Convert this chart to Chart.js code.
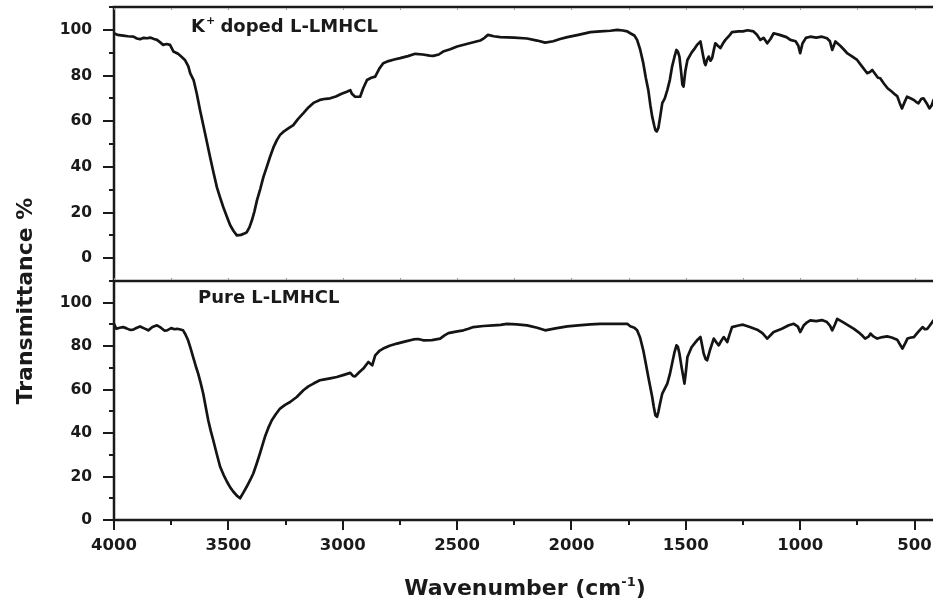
<!DOCTYPE html>
<html>
<head>
<meta charset="utf-8">
<script src="https://cdn.jsdelivr.net/npm/chart.js@4/dist/chart.umd.min.js"></script>
<style>
  html, body { margin: 0; padding: 0; background: #ffffff; overflow: hidden; }
  #wrap { position: relative; width: 942px; height: 604px; }
</style>
</head>
<body>
<div id="wrap"><canvas id="ftir" width="942" height="604"></canvas></div>
<script>
// FTIR spectrum of K+ doped L-LMHCL (upper panel)
const dopedWavenumber = [
  4000, 3985, 3960, 3940, 3915, 3900, 3886, 3870, 3855, 3842, 3825, 3812, 3798, 3785, 3770, 3755,
  3740, 3720, 3705, 3690, 3675, 3667, 3652, 3638, 3624, 3602, 3580, 3565, 3550, 3536, 3522, 3506,
  3492, 3478, 3463, 3445, 3430, 3420, 3408, 3397, 3386, 3375, 3360, 3347, 3332, 3318, 3303, 3288,
  3274, 3260, 3238, 3216, 3195, 3172, 3150, 3128, 3100, 3075, 3055, 3030, 3005, 2982, 2967, 2960,
  2946, 2924, 2910, 2894, 2875, 2858, 2840, 2823, 2800, 2775, 2749, 2715, 2683, 2650, 2620, 2604,
  2580, 2561, 2530, 2500, 2450, 2399, 2380, 2365, 2340, 2311, 2250, 2194, 2150, 2115, 2080, 2050,
  2018, 1970, 1917, 1874, 1830, 1800, 1775, 1756, 1743, 1725, 1713, 1700, 1686, 1675, 1664, 1655,
  1647, 1638, 1633, 1627, 1620, 1612, 1603, 1592, 1581, 1570, 1560, 1550, 1541, 1535, 1528, 1520,
  1515, 1510, 1502, 1493, 1475, 1460, 1451, 1436, 1425, 1418, 1414, 1407, 1400, 1392, 1385, 1378,
  1371, 1360, 1349, 1338, 1327, 1310, 1298, 1270, 1250, 1230, 1204, 1190, 1174, 1160, 1144, 1130,
  1116, 1090, 1060, 1043, 1020, 1008, 1000, 990, 975, 956, 930, 905, 883, 870, 860, 846,
  825, 810, 795, 775, 751, 730, 707, 695, 685, 660, 650, 635, 618, 600, 583, 576,
  565, 555, 545, 533, 518, 503, 490, 483, 470, 461, 448, 435, 425, 417
];
const dopedTransmittance = [
  98.5, 97.8, 97.5, 97.2, 97.0, 96.2, 95.9, 96.5, 96.3, 96.6, 96.0, 95.6, 94.5, 93.4, 93.8, 93.4,
  90.5, 89.5, 88.2, 86.8, 84.0, 81.0, 78.0, 72.0, 64.9, 54.7, 44.3, 37.5, 31.0, 26.5, 22.3, 18.0,
  14.4, 12.0, 10.0, 10.2, 10.8, 11.3, 13.5, 16.6, 20.5, 25.3, 30.5, 35.5, 40.0, 44.3, 48.5, 51.7,
  54.0, 55.3, 56.8, 58.3, 61.0, 63.5, 66.0, 68.0, 69.3, 69.8, 70.0, 70.8, 72.0, 72.9, 73.6, 72.0,
  70.7, 70.7, 74.5, 78.0, 79.0, 79.5, 83.0, 85.4, 86.3, 87.0, 87.6, 88.5, 89.5, 89.2, 88.7, 88.6,
  89.2, 90.5, 91.5, 92.7, 94.0, 95.3, 96.5, 97.8, 97.2, 96.8, 96.6, 96.2, 95.3, 94.4, 95.0, 96.0,
  96.8, 97.8, 99.0, 99.3, 99.6, 100.0, 99.7, 99.3, 98.5, 97.5, 95.6, 91.5, 85.4, 79.0, 73.6, 67.0,
  62.0, 58.0, 56.1, 55.5, 57.0, 62.0, 67.9, 70.0, 73.6, 78.0, 83.9, 88.0, 91.2, 90.5, 88.3, 81.0,
  76.0, 75.1, 82.0, 86.8, 90.0, 92.0, 93.4, 94.9, 89.0, 85.5, 84.6, 87.0, 88.3, 86.5, 87.6, 91.0,
  94.1, 93.0, 92.0, 94.0, 95.6, 97.5, 99.0, 99.3, 99.3, 99.8, 99.3, 98.0, 95.6, 96.5, 94.1, 96.0,
  98.5, 97.8, 96.8, 95.6, 95.0, 93.0, 89.8, 94.0, 96.5, 97.0, 96.6, 97.0, 96.3, 95.0, 91.2, 94.9,
  93.0, 91.5, 89.8, 88.5, 86.8, 84.0, 81.0, 81.5, 82.4, 79.0, 78.8, 76.6, 74.4, 73.0, 71.5, 71.0,
  68.0, 65.6, 68.0, 70.7, 70.0, 69.3, 68.2, 67.8, 69.8, 70.0, 68.0, 65.6, 67.0, 69.3
];

// FTIR spectrum of pure L-LMHCL (lower panel)
const pureWavenumber = [
  4000, 3990, 3975, 3960, 3945, 3930, 3916, 3900, 3886, 3868, 3850, 3832, 3812, 3795, 3780, 3768,
  3750, 3735, 3724, 3710, 3698, 3688, 3676, 3665, 3654, 3643, 3632, 3621, 3610, 3599, 3588, 3577,
  3566, 3551, 3536, 3521, 3506, 3492, 3478, 3463, 3449, 3435, 3420, 3405, 3391, 3376, 3362, 3351,
  3340, 3325, 3310, 3292, 3274, 3252, 3230, 3201, 3172, 3150, 3128, 3100, 3085, 3055, 3026, 2995,
  2967, 2955, 2946, 2928, 2910, 2888, 2871, 2858, 2840, 2823, 2795, 2763, 2725, 2691, 2670, 2648,
  2610, 2574, 2555, 2538, 2505, 2472, 2450, 2429, 2385, 2341, 2310, 2282, 2240, 2194, 2150, 2115,
  2070, 2018, 1970, 1917, 1874, 1800, 1756, 1743, 1725, 1713, 1700, 1686, 1675, 1664, 1655, 1647,
  1640, 1633, 1626, 1620, 1612, 1603, 1592, 1581, 1570, 1560, 1550, 1541, 1535, 1528, 1518, 1506,
  1500, 1493, 1475, 1460, 1451, 1436, 1428, 1422, 1413, 1407, 1395, 1378, 1368, 1356, 1345, 1334,
  1319, 1310, 1298, 1270, 1250, 1220, 1188, 1165, 1144, 1130, 1116, 1080, 1050, 1028, 1010, 1000,
  985, 970, 956, 930, 905, 883, 870, 860, 848, 838, 815, 790, 765, 746, 730, 716,
  700, 693, 680, 663, 640, 620, 600, 576, 565, 553, 540, 531, 515, 503, 485, 465,
  455, 444, 430, 417
];
const pureTransmittance = [
  90.3, 88.0, 88.5, 88.8, 88.2, 87.5, 87.6, 88.5, 89.1, 88.2, 87.3, 88.8, 89.6, 88.5, 87.2, 87.3,
  88.3, 87.8, 88.0, 87.7, 87.3, 85.5, 82.7, 79.0, 75.0, 71.0, 67.4, 63.0, 58.2, 52.0, 45.9, 41.0,
  36.7, 30.5, 24.5, 20.8, 17.6, 15.0, 13.0, 11.2, 10.0, 12.5, 15.3, 18.3, 21.4, 26.0, 30.6, 34.5,
  38.3, 42.5, 45.9, 48.8, 51.3, 53.0, 54.3, 56.6, 59.7, 61.5, 62.8, 64.3, 64.6, 65.2, 65.8, 66.8,
  67.7, 66.3, 66.1, 68.0, 69.7, 72.7, 71.2, 75.8, 77.8, 78.9, 80.2, 81.2, 82.2, 83.1, 83.3, 82.7,
  82.8, 83.5, 85.0, 86.0, 86.7, 87.3, 88.0, 88.8, 89.3, 89.6, 89.8, 90.3, 90.0, 89.6, 88.5, 87.3,
  88.2, 89.1, 89.6, 90.0, 90.3, 90.3, 90.3, 89.2, 88.5, 87.3, 84.0, 78.1, 72.0, 65.8, 61.0, 56.6,
  52.0, 48.2, 47.5, 49.8, 54.0, 58.2, 60.5, 62.8, 67.0, 72.0, 77.0, 80.4, 79.8, 76.6, 70.0, 62.8,
  68.0, 75.0, 79.5, 81.5, 82.7, 84.2, 80.0, 76.6, 74.0, 73.5, 78.0, 83.5, 82.0, 80.4, 82.5, 84.2,
  81.9, 85.0, 88.8, 89.5, 89.9, 88.8, 87.6, 86.0, 83.5, 85.0, 86.5, 88.0, 89.6, 90.3, 89.0, 86.5,
  89.5, 91.0, 91.9, 91.5, 92.0, 91.1, 89.5, 87.3, 90.0, 92.6, 91.2, 89.6, 88.0, 86.5, 85.0, 83.5,
  84.5, 85.8, 84.5, 83.5, 84.2, 84.5, 84.0, 83.0, 81.0, 78.9, 81.5, 83.5, 84.0, 84.2, 86.5, 88.8,
  87.8, 88.0, 90.0, 91.9
];

// Axis ticks
const xMajorTicks = [4000, 3500, 3000, 2500, 2000, 1500, 1000, 500];
const xMinorTicks = [3750, 3250, 2750, 2250, 1750, 1250, 750];
const yMajorTicks = [0, 20, 40, 60, 80, 100];
const yDopedMinorTicks = [-10, 10, 30, 50, 70, 90, 110];
const yPureMinorTicks = [10, 30, 50, 70, 90, 110];

// Text
const dopedLabel = ['K', '+', ' doped L-LMHCL'];
const pureLabel = 'Pure L-LMHCL';
const yTitle = 'Transmittance %';
const xTitle = ['Wavenumber (cm', '-1', ')'];

const INK = '#1a1a1a';
const FONT = '"DejaVu Sans", "Liberation Sans", Arial, sans-serif';

const toPoints = (xs, ys) => xs.map((x, i) => ({ x: x, y: ys[i] }));

const yAxisBase = (min, max, weight) => ({
  type: 'linear',
  position: 'left',
  stack: 'panels',
  stackWeight: weight,
  min: min,
  max: max,
  grid: { display: false, drawTicks: false },
  border: { display: false },
  afterBuildTicks: (s) => { s.ticks = yMajorTicks.map(v => ({ value: v })); },
  ticks: {
    padding: 22,
    color: INK,
    font: { family: FONT, weight: 'bold', size: 15.5 },
    callback: (v) => String(v)
  },
  afterFit: (s) => {
    s.width = 114;
    s.paddingTop = 0; s.paddingBottom = 0; s.paddingLeft = 0; s.paddingRight = 0;
  }
});

// Frame, tick marks, titles and panel captions
const framePlugin = {
  id: 'frame',
  afterDraw(chart) {
    const { ctx, chartArea } = chart;
    const xs = chart.scales.x;
    const yTop = chart.scales.yDoped;
    const yBot = chart.scales.yPure;
    const L = chartArea.left, R = chartArea.right;
    const sep = yTop.bottom;

    ctx.save();
    ctx.strokeStyle = INK;
    ctx.lineWidth = 2.5;
    ctx.lineCap = 'butt';

    // panel borders
    ctx.beginPath();
    ctx.moveTo(L, chartArea.top); ctx.lineTo(R, chartArea.top);
    ctx.moveTo(L, sep); ctx.lineTo(R, sep);
    ctx.moveTo(L, chartArea.bottom); ctx.lineTo(R, chartArea.bottom);
    ctx.moveTo(L, chartArea.top - 1.2); ctx.lineTo(L, chartArea.bottom + 1.2);
    ctx.stroke();

    // y tick marks (outward)
    ctx.lineWidth = 2;
    ctx.beginPath();
    const yTick = (scale, v, len) => {
      const p = Math.round(scale.getPixelForValue(v));
      ctx.moveTo(L - len, p); ctx.lineTo(L, p);
    };
    yMajorTicks.forEach(v => { yTick(yTop, v, 11); yTick(yBot, v, 11); });
    yDopedMinorTicks.forEach(v => yTick(yTop, v, 5));
    yPureMinorTicks.forEach(v => yTick(yBot, v, 5));
    // x tick marks (outward, bottom axis)
    xMajorTicks.forEach(v => {
      const p = Math.round(xs.getPixelForValue(v));
      ctx.moveTo(p, chartArea.bottom); ctx.lineTo(p, chartArea.bottom + 10);
    });
    xMinorTicks.forEach(v => {
      const p = Math.round(xs.getPixelForValue(v));
      ctx.moveTo(p, chartArea.bottom); ctx.lineTo(p, chartArea.bottom + 5);
    });
    ctx.stroke();

    // faint inner ticks on the top border and the panel divider
    ctx.strokeStyle = '#9a9a9a';
    ctx.lineWidth = 1;
    ctx.beginPath();
    xMajorTicks.concat(xMinorTicks).forEach(v => {
      const p = Math.round(xs.getPixelForValue(v)) + 0.5;
      ctx.moveTo(p, chartArea.top + 1); ctx.lineTo(p, chartArea.top + 3);
      ctx.moveTo(p, sep - 1); ctx.lineTo(p, sep - 3);
    });
    ctx.stroke();

    ctx.fillStyle = INK;
    ctx.textBaseline = 'alphabetic';

    // y-axis title
    ctx.save();
    ctx.translate(32, 301);
    ctx.rotate(-Math.PI / 2);
    ctx.font = 'bold 22px ' + FONT;
    ctx.textAlign = 'center';
    ctx.fillText(yTitle, 0, 0);
    ctx.restore();

    // x-axis title with superscript
    ctx.textAlign = 'left';
    const big = 'bold 22px ' + FONT, small = 'bold 13px ' + FONT;
    ctx.font = big; const w0 = ctx.measureText(xTitle[0]).width; const w2 = ctx.measureText(xTitle[2]).width;
    ctx.font = small; const w1 = ctx.measureText(xTitle[1]).width;
    let tx = 525 - (w0 + w1 + w2) / 2;
    const ty = 595;
    ctx.font = big; ctx.fillText(xTitle[0], tx, ty); tx += w0;
    ctx.font = small; ctx.fillText(xTitle[1], tx, ty - 9); tx += w1;
    ctx.font = big; ctx.fillText(xTitle[2], tx, ty);

    // panel captions
    const cap = 'bold 18px ' + FONT, capSup = 'bold 11px ' + FONT;
    let cx = 191;
    ctx.font = cap; ctx.fillText(dopedLabel[0], cx, 32); cx += ctx.measureText(dopedLabel[0]).width + 1;
    ctx.font = capSup; ctx.fillText(dopedLabel[1], cx, 24); cx += ctx.measureText(dopedLabel[1]).width - 1;
    ctx.font = cap; ctx.fillText(dopedLabel[2], cx, 32);
    ctx.fillText(pureLabel, 198, 303);

    ctx.restore();
  }
};

new Chart(document.getElementById('ftir'), {
  type: 'line',
  data: {
    datasets: [
      {
        label: 'K+ doped L-LMHCL',
        data: toPoints(dopedWavenumber, dopedTransmittance),
        yAxisID: 'yDoped',
        borderColor: '#141414',
        borderWidth: 2.7,
        pointRadius: 0,
        tension: 0,
        borderJoinStyle: 'round',
        borderCapStyle: 'round',
        fill: false
      },
      {
        label: 'Pure L-LMHCL',
        data: toPoints(pureWavenumber, pureTransmittance),
        yAxisID: 'yPure',
        borderColor: '#141414',
        borderWidth: 2.7,
        pointRadius: 0,
        tension: 0,
        borderJoinStyle: 'round',
        borderCapStyle: 'round',
        fill: false
      }
    ]
  },
  options: {
    responsive: false,
    animation: false,
    devicePixelRatio: 1,
    layout: { padding: { top: 7, left: 0, right: 0, bottom: 0 } },
    plugins: { legend: { display: false }, tooltip: { enabled: false } },
    scales: {
      x: {
        type: 'linear',
        reverse: true,
        min: 380,
        max: 4000,
        grid: { display: false, drawTicks: false },
        border: { display: false },
        afterBuildTicks: (s) => { s.ticks = xMajorTicks.map(v => ({ value: v })); },
        ticks: {
          padding: 16,
          color: INK,
          autoSkip: false,
          maxRotation: 0,
          font: { family: FONT, weight: 'bold', size: 16.5 },
          callback: (v) => String(v)
        },
        afterFit: (s) => {
          s.height = 84;
          s.paddingLeft = 0; s.paddingRight = 0; s.paddingTop = 0; s.paddingBottom = 0;
        }
      },
      yPure: yAxisBase(0, 110, 239),
      yDoped: yAxisBase(-10, 110, 274)
    }
  },
  plugins: [framePlugin]
});
</script>
</body>
</html>
